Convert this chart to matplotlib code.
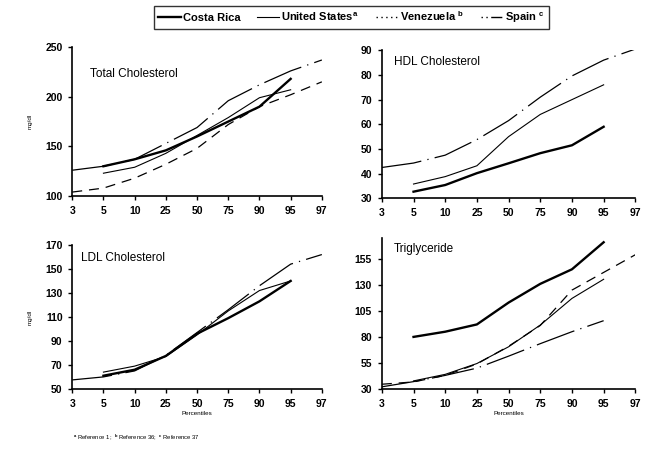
import matplotlib
matplotlib.use('Agg')
import matplotlib.pyplot as plt
import numpy as np
from matplotlib.lines import Line2D

plt.rcParams['font.family'] = ['Liberation Sans', 'DejaVu Sans']
plt.rcParams['mathtext.fontset'] = 'custom'
plt.rcParams['mathtext.rm'] = 'Liberation Sans'
plt.rcParams['mathtext.bf'] = 'Liberation Sans:bold'

nan = np.nan

# percentile categories (equally spaced on the x axis)
percentiles = ['3', '5', '10', '25', '50', '75', '90', '95', '97']

# Total cholesterol (mg/dl)
total_cr = [nan, 130, 137, 146, 160, 175, 190, 218, nan]
total_us = [nan, 123, 129, 143, 161, 179, 199, 207, nan]
total_ve = [104, 108, 118, 132, 148, 172, 190, 202, 215]
total_sp = [126, 130, 137, 153, 169, 196, 212, 226, 237]

# HDL cholesterol
hdl_cr = [nan, 32.7, 35.4, 40.2, 44.2, 48.3, 51.5, 59, nan]
hdl_us = [nan, 35.8, 38.8, 43.2, 55, 64, 70, 76, nan]
hdl_sp = [42.5, 44.3, 47.5, 53.8, 61.5, 71, 79.6, 86, 90.5]

# LDL cholesterol
ldl_cr = [nan, 61, 66, 77.5, 96, 109, 123, 140, nan]
ldl_us = [nan, 64, 69, 77, 95, 115, 132, 140, nan]
ldl_sp = [57.5, 60, 65, 78, 97, 116, 136, 154, 162]

# Triglyceride
tg_cr = [nan, 80, 85, 92, 113, 131, 145, 171, nan]
tg_us = [nan, 37.7, 44, 54.4, 70.5, 91.4, 117, 135.4, nan]
tg_ve = [34.5, 36.7, 43, 54, 71, 91, 125, 142, 159]
tg_sp = [32, 37, 43, 50, 61.5, 73.5, 85, 95.6, nan]

styles = {
    'cr': dict(color='black', lw=1.7, ls='-'),
    'us': dict(color='black', lw=0.8, ls='-'),
    've': dict(color='black', lw=0.9, ls=(0, (8, 5.5))),
    'sp': dict(color='black', lw=0.9, ls=(0, (32, 5, 1, 5))),
}

# rect, title, title position, ylim, yticks, series, ylabel?, xlabel?
panels = [
    ([0.112, 0.571, 0.387, 0.326], 'Total Cholesterol', (0.072, 0.82), (100, 250), [100, 150, 200, 250],
     {'cr': total_cr, 'us': total_us, 've': total_ve, 'sp': total_sp}, True, False),
    ([0.592, 0.566, 0.393, 0.324], 'HDL Cholesterol', (0.046, 0.92), (30, 90), [30, 40, 50, 60, 70, 80, 90],
     {'cr': hdl_cr, 'us': hdl_us, 'sp': hdl_sp}, False, False),
    ([0.112, 0.149, 0.387, 0.315], 'LDL Cholesterol', (0.036, 0.91), (50, 170), [50, 70, 90, 110, 130, 150, 170],
     {'cr': ldl_cr, 'us': ldl_us, 'sp': ldl_sp}, True, True),
    ([0.592, 0.149, 0.393, 0.330], 'Triglyceride', (0.046, 0.93), (30, 175), [30, 55, 80, 105, 130, 155],
     {'cr': tg_cr, 'us': tg_us, 've': tg_ve, 'sp': tg_sp}, False, True),
]

fig = plt.figure(figsize=(6.45, 4.57), dpi=100)
x = np.arange(len(percentiles))

for rect, title, tpos, ylim, yticks, series, ylab, xlab in panels:
    ax = fig.add_axes(rect)
    for key, vals in series.items():
        ax.plot(x, np.array(vals, dtype=float), **styles[key])
    ax.set_xlim(0, len(percentiles) - 1)
    ax.set_ylim(*ylim)
    ax.set_yticks(yticks)
    ax.set_xticks(x)
    ax.set_xticklabels(percentiles)
    for s in ['top', 'right']:
        ax.spines[s].set_visible(False)
    ax.spines['left'].set_linewidth(1.2)
    ax.spines['bottom'].set_linewidth(1.2)
    ax.tick_params(labelsize=7.5, length=3, width=1, pad=4)
    for lab in ax.get_xticklabels() + ax.get_yticklabels():
        lab.set_fontweight('bold')
    ax.text(tpos[0], tpos[1], title, transform=ax.transAxes, fontsize=8.5, va='center')
    if ylab:
        ax.set_ylabel('mg/dl', fontsize=4.5, labelpad=9)
    if xlab:
        ax.set_xlabel('Percentiles', fontsize=4.5, labelpad=2)

handles = [
    Line2D([], [], color='black', lw=1.7),
    Line2D([], [], color='black', lw=0.8),
    Line2D([], [], color='black', lw=1.0, ls=(0, (1, 2.5))),
    Line2D([], [], color='black', lw=1.0, ls=(0, (1, 2.5, 1, 2.5, 8, 1))),
]
labels = ['Costa Rica', r'United States$^{\bf a}$', r'Venezuela $^{\bf b}$', r'Spain $^{\bf c}$']
leg = fig.legend(handles, labels, loc='center', bbox_to_anchor=(0.545, 0.962), ncol=4,
                 frameon=True, fancybox=False, edgecolor='black', handlelength=2.0,
                 handletextpad=0.2, columnspacing=1.5, borderpad=0.35,
                 prop={'size': 8, 'weight': 'bold'})
leg.get_frame().set_linewidth(1.0)

fig.text(0.113, 0.044, r'$^{\bf a}$ Reference 1;  $^{\bf b}$ Reference 36;  $^{\bf c}$ Reference 37',
         fontsize=4.2, va='center')

fig.savefig('out.png', dpi=100)
